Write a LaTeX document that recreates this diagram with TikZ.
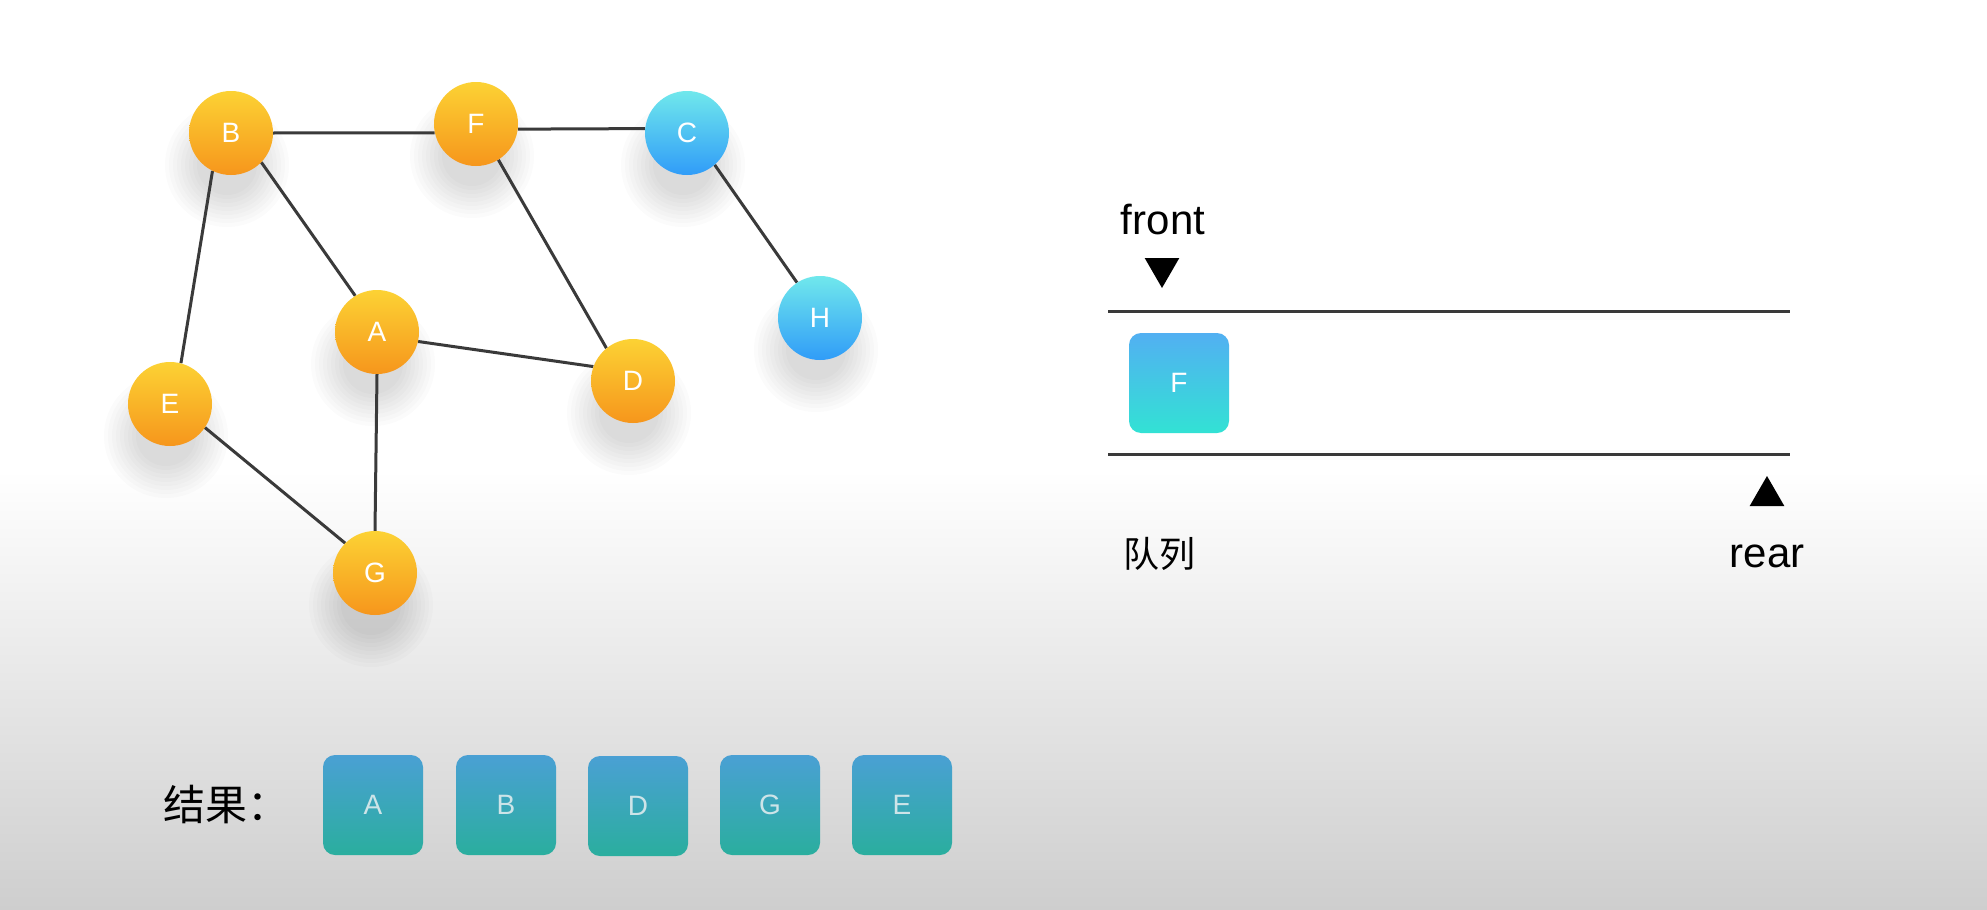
\documentclass[tikz,border=0pt]{standalone}
\usepackage{fontspec}
\setmainfont{Liberation Sans}
\newfontfamily\cjk{Noto Sans CJK SC}
\usetikzlibrary{shapes.geometric}
\pgfdeclarelayer{bgl}
\pgfdeclarelayer{shl}
\pgfdeclarelayer{edl}
\pgfsetlayers{bgl,shl,edl,main}
\definecolor{orTop}{RGB}{252,210,52}
\definecolor{orBot}{RGB}{246,150,28}
\definecolor{cyTop}{RGB}{112,232,236}
\definecolor{cyBot}{RGB}{48,156,248}
\definecolor{qTop}{RGB}{82,176,242}
\definecolor{qBot}{RGB}{50,226,212}
\definecolor{rTop}{RGB}{74,160,212}
\definecolor{rBot}{RGB}{42,174,158}
\definecolor{edgeC}{RGB}{58,58,58}
\definecolor{bgBot}{RGB}{206,206,206}
\tikzset{
  vtx/.style={circle, minimum size=84, inner sep=0, text=white, font=\fontsize{28}{28}\selectfont},
  orv/.style={vtx, top color=orTop, bottom color=orBot},
  cyv/.style={vtx, top color=cyTop, bottom color=cyBot},
  edge/.style={draw=edgeC, line width=3},
  qbox/.style={rounded corners=12, minimum size=100, inner sep=0, top color=qTop, bottom color=qBot, text=white, font=\fontsize{28}{28}\selectfont},
  rbox/.style={rounded corners=12, minimum size=100, inner sep=0, top color=rTop, bottom color=rBot, text={rgb,255:red,205;green,228;blue,232}, font=\fontsize{28}{28}\selectfont},
  qline/.style={draw=edgeC, line width=3},
  tri/.style={regular polygon, regular polygon sides=3, fill=black, inner sep=0, minimum size=40},
  lbl/.style={font=\fontsize{42}{42}\selectfont, text=black, inner sep=0},
}
\begin{document}
\begin{tikzpicture}[x=1pt,y=-1pt]
\useasboundingbox (0,0) rectangle (1987,910);
\begin{pgfonlayer}{bgl}
  \fill[white] (0,0) rectangle (1987,470);
  \shade[top color=white, bottom color=bgBot] (0,470) rectangle (1987,910);
\end{pgfonlayer}
% graph vertices
\node[orv] (B) at (231,133) {B};
\node[orv] (F) at (476,124) {F};
\node[cyv] (C) at (687,133) {C};
\node[cyv] (H) at (820,318) {H};
\node[orv] (A) at (377,332) {A};
\node[orv] (D) at (633,381) {D};
\node[orv] (E) at (170,404) {E};
\node[orv] (G) at (375,573) {G};
\begin{pgfonlayer}{shl}
  \foreach \n in {A,B,C,D,E,F,G,H}{
    \foreach \r in {30,34,...,62}{
      \fill[black, opacity=0.015] ([shift={(-4,32)}]\n.center) circle[radius=\r pt];
    }
  }
\end{pgfonlayer}
\begin{pgfonlayer}{edl}
  \draw[edge] (B.east) -- (F.192);
  \draw[edge] (F.353) -- (C.174);
  \draw[edge] (C.311) -- (H.123);
  \draw[edge] (B.316) -- (A.121);
  \draw[edge] (B.244) -- (E.75);
  \draw[edge] (F.302) -- (D.129);
  \draw[edge] (A.347) -- (D.160);
  \draw[edge] (A.south) -- (G.north);
  \draw[edge] (E.326) -- (G.135);
\end{pgfonlayer}
% queue
\coordinate (qt1) at (1108,311);
\coordinate (qt2) at (1790,311);
\coordinate (qb1) at (1108,454);
\coordinate (qb2) at (1790,454);
\draw[qline] (qt1) -- (qt2);
\draw[qline] (qb1) -- (qb2);
\node[lbl] (front) at (1163,220) {front};
\node[tri, shape border rotate=180] (ftri) at (1162,268) {};
\node[qbox] (qF) at (1179,383) {F};
\node[tri] (rtri) at (1767,496) {};
\node[lbl, anchor=base] (rear) at (1767,567) {rear};
\node[font=\cjk\fontsize{36}{36}\selectfont, inner sep=0] (queue) at (1159,554) {队列};
% result
\node[font=\cjk\fontsize{42}{42}\selectfont, inner sep=0, anchor=west] (res) at (163,805) {结果：};
\node[rbox] (r1) at (373,805) {A};
\node[rbox] (r2) at (506,805) {B};
\node[rbox] (r3) at (638,806) {D};
\node[rbox] (r4) at (770,805) {G};
\node[rbox] (r5) at (902,805) {E};
\end{tikzpicture}
\end{document}
